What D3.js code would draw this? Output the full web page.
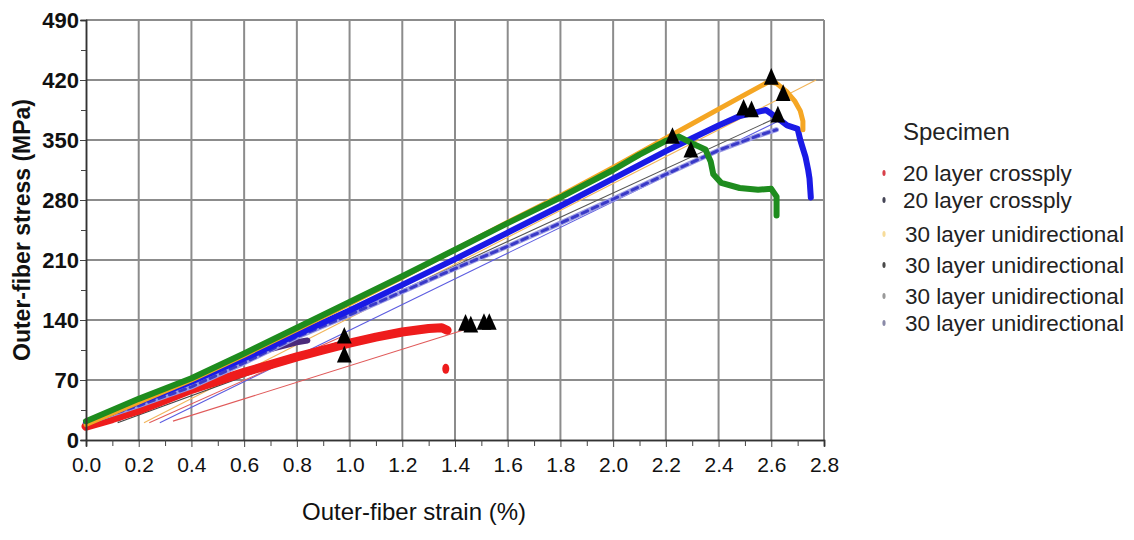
<!DOCTYPE html>
<html>
<head>
<meta charset="utf-8">
<script src="https://cdn.jsdelivr.net/npm/d3@7"></script>
<style>
  html, body { margin: 0; padding: 0; background: #fff; }
  svg { display: block; }
</style>
</head>
<body>
<svg id="chart" width="1134" height="540"></svg>
<script>
// Flexural stress-strain curves, 20-layer crossply vs 30-layer unidirectional specimens

const xTicks = [0.0, 0.2, 0.4, 0.6, 0.8, 1.0, 1.2, 1.4, 1.6, 1.8, 2.0, 2.2, 2.4, 2.6, 2.8];
const yTicks = [0, 70, 140, 210, 280, 350, 420, 490];

const legendLabels = [
  "20 layer crossply",
  "20 layer crossply",
  "30 layer unidirectional",
  "30 layer unidirectional",
  "30 layer unidirectional",
  "30 layer unidirectional"
];

// [strain %, stress MPa]
const crossplyA = [
  [0.00, 16], [0.10, 25], [0.20, 35], [0.30, 47], [0.40, 59], [0.50, 69], [0.60, 79],
  [0.70, 88], [0.80, 97], [0.90, 105], [1.00, 113], [1.10, 120], [1.20, 126],
  [1.30, 130], [1.35, 131], [1.37, 128]
];
const crossplyAStray = [[1.365, 83]];

const crossplyB = [
  [0.00, 20], [0.20, 42], [0.40, 66], [0.55, 88], [0.60, 96], [0.70, 106], [0.80, 114], [0.84, 116]
];

const uniA = [ // orange
  [0.00, 18], [0.20, 44], [0.40, 70], [0.60, 99], [0.80, 129], [1.00, 159], [1.20, 190],
  [1.40, 222], [1.60, 254], [1.80, 285], [2.00, 318], [2.20, 352], [2.40, 386], [2.50, 403],
  [2.59, 418], [2.62, 416], [2.66, 406], [2.69, 395], [2.71, 384], [2.72, 372], [2.72, 362]
];

const uniB = [ // blue
  [0.00, 20], [0.20, 44], [0.40, 68], [0.60, 95], [0.80, 123], [1.00, 151], [1.20, 181],
  [1.40, 211], [1.60, 242], [1.80, 273], [2.00, 305], [2.10, 321], [2.20, 337], [2.30, 352],
  [2.40, 367], [2.48, 378], [2.58, 385], [2.63, 374], [2.66, 367], [2.70, 363], [2.71, 350],
  [2.73, 330], [2.74, 315], [2.745, 305], [2.75, 283]
];

const uniC = [ // green
  [0.00, 22], [0.20, 48], [0.40, 72], [0.60, 101], [0.80, 131], [1.00, 161], [1.20, 191],
  [1.40, 222], [1.60, 253], [1.80, 283], [2.00, 315], [2.10, 333], [2.20, 349], [2.25, 354],
  [2.30, 346], [2.35, 339], [2.37, 325], [2.38, 310], [2.41, 300], [2.48, 294], [2.55, 292],
  [2.60, 293], [2.62, 284], [2.62, 262]
];

const uniD = [ // light blue
  [0.00, 20], [0.20, 40], [0.40, 62], [0.60, 90], [0.80, 120], [1.00, 146], [1.20, 173],
  [1.40, 200], [1.60, 226], [1.80, 253], [2.00, 281], [2.20, 310], [2.40, 338], [2.55, 355],
  [2.62, 362]
];

// Thin reference lines
const refLines = [
  { pts: [[0.22, 20], [2.77, 420]], color: "#f2b55a" },
  { pts: [[0.12, 22], [2.62, 376]], color: "#555555" },
  { pts: [[0.28, 20], [2.62, 371]], color: "#5c5ce0" },
  { pts: [[0.24, 20], [0.98, 122]], color: "#e05a5a" },
  { pts: [[0.33, 22], [1.46, 131]], color: "#e05a5a" },
  { pts: [[0.12, 20], [0.98, 117]], color: "#444444" }
];

// Failure markers
const failures = [
  [2.60, 421], [2.645, 402], [2.495, 385], [2.525, 383], [2.625, 377],
  [2.225, 352], [2.295, 336], [0.98, 119], [0.98, 97],
  [1.44, 134], [1.46, 132], [1.51, 135], [1.53, 135]
];

const legendColors = ["#d8404a", "#444455", "#f7dc9a", "#4a4a4a", "#999999", "#8a8aa8"];

const svg = d3.select("#chart");
const x = d3.scaleLinear().domain([0, 2.8]).range([86, 824]);
const y = d3.scaleLinear().domain([0, 490]).range([440, 20]);

const gridColor = "#8c8c8c";

// grid
const grid = svg.append("g");
grid.selectAll("line.vx").data(xTicks.slice(1)).join("line")
  .attr("x1", d => x(d)).attr("x2", d => x(d))
  .attr("y1", y(490)).attr("y2", y(0))
  .attr("stroke", gridColor).attr("stroke-width", 2);
grid.selectAll("line.hy").data(yTicks.slice(1)).join("line")
  .attr("x1", x(0)).attr("x2", x(2.8))
  .attr("y1", d => y(d)).attr("y2", d => y(d))
  .attr("stroke", gridColor).attr("stroke-width", 2.2);

const line = d3.line().x(d => x(d[0])).y(d => y(d[1]));

// thin reference lines
svg.append("g").selectAll("path").data(refLines).join("path")
  .attr("d", d => line(d.pts)).attr("fill", "none")
  .attr("stroke", d => d.color).attr("stroke-width", 1.1);

function band(data, color, width, dash) {
  const p = svg.append("path").attr("d", line(data)).attr("fill", "none")
    .attr("stroke", color).attr("stroke-width", width)
    .attr("stroke-linejoin", "round").attr("stroke-linecap", "round");
  if (dash) p.attr("stroke-dasharray", dash);
  return p;
}

band(crossplyA, "#ee1c1c", 9);
band(crossplyB, "#4b2a7a", 6);
band(uniD, "#9a9ae4", 5);
band(uniD, "#3a3ac8", 3, "6 5");
band(uniB, "#1a1ae6", 6);
band(uniA, "#f5a623", 5);
band(uniC, "#1e8c1e", 6);

svg.append("g").selectAll("ellipse").data(crossplyAStray).join("ellipse")
  .attr("cx", d => x(d[0])).attr("cy", d => y(d[1]))
  .attr("rx", 3.5).attr("ry", 5).attr("fill", "#ee1c1c");

// failure triangles
const tri = d3.symbol().type(d3.symbolTriangle).size(95);
svg.append("g").selectAll("path").data(failures).join("path")
  .attr("d", tri)
  .attr("transform", d => `translate(${x(d[0])},${y(d[1])}) scale(1,1.3)`)
  .attr("fill", "#000");

// axes
const xAxis = d3.axisBottom(x).tickValues(xTicks).tickFormat(d3.format(".1f")).tickSize(7).tickPadding(10);
const xMinor = d3.axisBottom(x).tickValues(d3.range(1, 28, 2).map(v => v / 10)).tickFormat("").tickSize(6);
const yAxis = d3.axisLeft(y).tickValues(yTicks).tickFormat(d3.format("d")).tickSize(6).tickPadding(1);
const yMinor = d3.axisLeft(y).tickValues(d3.range(35, 490, 70)).tickFormat("").tickSize(5);

const gx = svg.append("g").attr("transform", `translate(0,${y(0)})`).call(xAxis);
svg.append("g").attr("transform", `translate(0,${y(0)})`).call(xMinor);
const gy = svg.append("g").attr("transform", `translate(${x(0)},0)`).call(yAxis);
svg.append("g").attr("transform", `translate(${x(0)},0)`).call(yMinor);

svg.selectAll(".domain").attr("stroke", "#333").attr("stroke-width", 1.5);
svg.selectAll(".tick line").attr("stroke", "#444");

gx.selectAll("text")
  .attr("font-family", "'Liberation Sans', Arial, sans-serif")
  .attr("font-size", 21).attr("fill", "#111");
gy.selectAll("text")
  .attr("font-family", "'Liberation Sans', Arial, sans-serif")
  .attr("font-size", 22).attr("font-weight", "bold").attr("fill", "#111");

// axis titles
svg.append("text")
  .attr("x", 414).attr("y", 520).attr("text-anchor", "middle")
  .attr("font-family", "'Liberation Sans', Arial, sans-serif")
  .attr("font-size", 24).attr("fill", "#111")
  .text("Outer-fiber strain (%)");

svg.append("text")
  .attr("transform", `translate(30,${y(245)}) rotate(-90)`)
  .attr("text-anchor", "middle")
  .attr("font-family", "'Liberation Sans', Arial, sans-serif")
  .attr("font-size", 23).attr("font-weight", "bold").attr("fill", "#111")
  .text("Outer-fiber stress (MPa)");

// legend
const legend = svg.append("g");
legend.append("text")
  .attr("x", 903).attr("y", 140)
  .attr("font-family", "'Liberation Sans', Arial, sans-serif")
  .attr("font-size", 24).attr("fill", "#222")
  .text("Specimen");
const rowY = [173, 200, 234, 265, 296, 323];
const rows = legend.selectAll("g.row").data(legendLabels).join("g")
  .attr("transform", (d, i) => `translate(0,${rowY[i]})`);
rows.append("ellipse")
  .attr("cx", 884).attr("cy", 0).attr("rx", 1.6).attr("ry", 3)
  .attr("fill", (d, i) => legendColors[i]);
rows.append("text")
  .attr("x", (d, i) => i < 2 ? 903 : 905).attr("y", 8)
  .attr("font-family", "'Liberation Sans', Arial, sans-serif")
  .attr("font-size", 22.5).attr("fill", "#222")
  .text(d => d);
</script>
</body>
</html>
